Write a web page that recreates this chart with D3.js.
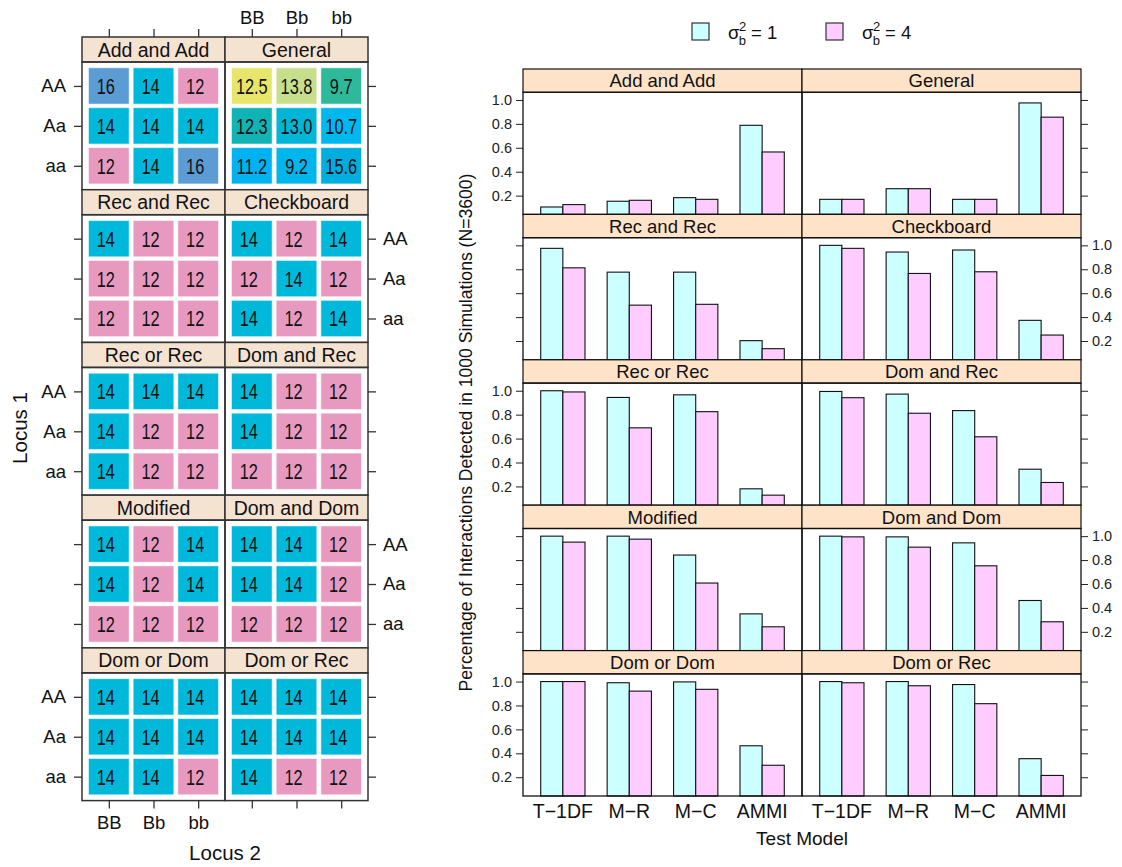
<!DOCTYPE html>
<html><head><meta charset="utf-8">
<script src="https://cdn.jsdelivr.net/npm/d3@7"></script>
<style>
body{margin:0;background:#fff;}
svg{font-family:"Liberation Sans",Arial,sans-serif;}
</style></head><body>
<svg id="chart" width="1122" height="867"></svg>
<script>
// ---------- data ----------
const interactionModels = ["Add and Add","General","Rec and Rec","Checkboard","Rec or Rec","Dom and Rec","Modified","Dom and Dom","Dom or Dom","Dom or Rec"];
const locus1 = ["AA","Aa","aa"];
const locus2 = ["BB","Bb","bb"];
// genotypic values per model, rows AA,Aa,aa ; cols BB,Bb,bb
const genotypeValues = [
  ["16","14","12","14","14","14","12","14","16"],
  ["12.5","13.8","9.7","12.3","13.0","10.7","11.2","9.2","15.6"],
  ["14","12","12","12","12","12","12","12","12"],
  ["14","12","14","12","14","12","14","12","14"],
  ["14","14","14","14","12","12","14","12","12"],
  ["14","12","12","14","12","12","12","12","12"],
  ["14","12","14","14","12","14","12","12","12"],
  ["14","14","12","14","14","12","12","12","12"],
  ["14","14","14","14","14","14","14","14","12"],
  ["14","14","14","14","14","14","14","12","12"]
];
const valueKeys = ["16","14","12","12.5","13.8","9.7","12.3","13.0","10.7","11.2","9.2","15.6"];
const valueColors = ["#5b9cd4","#00b9da","#e899c0","#e7e66b","#c7df8d","#2fb99b","#12b3b4","#00b5d6","#00b7ee","#00b2ef","#00b6eb","#00addf"];

const testModels = ["T\u22121DF","M\u2212R","M\u2212C","AMMI"];
const sigma1 = [
  [0.105,0.153,0.183,0.788],
  [0.169,0.258,0.169,0.975],
  [0.975,0.776,0.776,0.203],
  [1.000,0.944,0.961,0.373],
  [1.000,0.944,0.966,0.180],
  [0.994,0.972,0.834,0.344],
  [1.000,1.000,0.842,0.350],
  [1.000,0.994,0.944,0.462],
  [1.000,0.990,0.997,0.463],
  [1.000,1.000,0.975,0.355]
];
const sigma4 = [
  [0.125,0.161,0.169,0.565],
  [0.169,0.258,0.169,0.856],
  [0.812,0.500,0.507,0.136],
  [0.975,0.765,0.779,0.250],
  [0.990,0.690,0.825,0.127],
  [0.942,0.812,0.615,0.233],
  [0.950,0.975,0.608,0.242],
  [0.994,0.908,0.752,0.284],
  [1.000,0.920,0.935,0.300],
  [0.990,0.965,0.815,0.215]
];
const yTicks = [0.2,0.4,0.6,0.8,1.0];

// ---------- drawing ----------
const svg = d3.select("#chart");
const colorScale = d3.scaleOrdinal().domain(valueKeys).range(valueColors);
const FONT = "Liberation Sans, Arial, sans-serif";

// ===== Left chart (level plots) =====
(function(){
  const L = {x0:82, x1:368, y0:37, y1:800.6, strip:25};
  const pw = (L.x1-L.x0)/2, rh = (L.y1-L.y0)/5;
  const g = svg.append("g");
  const styleAxis = (a,fs)=>{
    a.select(".domain").remove();
    a.selectAll("line").attr("stroke","#333").attr("stroke-width",1.3);
    a.selectAll("text").attr("font-size",fs).attr("font-family",FONT).attr("fill","#111");
  };
  interactionModels.forEach((name,i)=>{
    const col = i%2, row = Math.floor(i/2);
    const px = L.x0 + col*pw, sy = L.y0 + row*rh, py = sy + L.strip, ph = rh - L.strip;
    const x = d3.scalePoint().domain(locus2).range([px+0.6*pw/3.2, px+pw-0.6*pw/3.2]);
    const y = d3.scalePoint().domain(locus1).range([py+0.6*ph/3.2, py+ph-0.6*ph/3.2]);
    const cw = pw/3.2, ch = ph/3.2;
    const pg = g.append("g");
    pg.append("rect").attr("x",px).attr("y",sy).attr("width",pw).attr("height",L.strip)
      .attr("fill","#f5e3d2").attr("stroke","#333").attr("stroke-width",1.5);
    pg.append("text").attr("x",px+pw/2).attr("y",sy+L.strip/2).attr("dy","0.36em")
      .attr("text-anchor","middle").attr("font-size",19.5).attr("fill","#111").text(name);
    const vals = genotypeValues[i];
    const cells = [];
    locus1.forEach((r,ri)=>locus2.forEach((c,ci)=>cells.push({r,c,v:vals[ri*3+ci]})));
    const cg = pg.selectAll("g.c").data(cells).join("g");
    cg.append("rect")
      .attr("x",d=>x(d.c)-cw*0.455).attr("y",d=>y(d.r)-ch*0.455)
      .attr("width",cw*0.91).attr("height",ch*0.91)
      .attr("fill",d=>colorScale(d.v)).attr("stroke","rgba(255,255,255,0.55)").attr("stroke-width",1);
    cg.append("text")
      .attr("transform",d=>`translate(${x(d.c)-(d.v.length<3?3:0)},${y(d.r)}) scale(0.76,1)`)
      .attr("dy","0.37em")
      .attr("text-anchor","middle").attr("font-size",21.5).attr("fill","#111").text(d=>d.v);
    pg.append("rect").attr("x",px).attr("y",py).attr("width",pw).attr("height",ph)
      .attr("fill","none").attr("stroke","#333").attr("stroke-width",1.5);
    if(col===0){
      const a = pg.append("g").attr("transform",`translate(${px},0)`).call(d3.axisLeft(y).tickSize(8).tickPadding(8));
      styleAxis(a,18.5);
      if(row%2===1) a.selectAll("text").remove();
    } else {
      const a = pg.append("g").attr("transform",`translate(${px+pw},0)`).call(d3.axisRight(y).tickSize(8).tickPadding(7));
      styleAxis(a,18.5);
      if(row%2===0) a.selectAll("text").remove();
    }
    if(row===0){
      const a = pg.append("g").attr("transform",`translate(0,${sy})`).call(d3.axisTop(x).tickSize(8).tickPadding(5));
      styleAxis(a,18.5);
      if(col===0) a.selectAll("text").remove();
    }
    if(row===4){
      const a = pg.append("g").attr("transform",`translate(0,${py+ph})`).call(d3.axisBottom(x).tickSize(8).tickPadding(7));
      styleAxis(a,18.5);
      if(col===1) a.selectAll("text").remove();
    }
  });
  g.append("text").attr("transform","translate(27,428) rotate(-90)").attr("text-anchor","middle")
    .attr("font-size",20.5).attr("fill","#111").text("Locus 1");
  g.append("text").attr("x",225).attr("y",860).attr("text-anchor","middle")
    .attr("font-size",20.5).attr("fill","#111").text("Locus 2");
})();

// ===== Right chart (bar charts) =====
(function(){
  const R = {x0:523, x1:1081, y0:69, y1:796, strip:23.3};
  const pw = (R.x1-R.x0)/2, rh = (R.y1-R.y0)/5;
  const fills = ["#ccffff","#ffccff"];
  const g = svg.append("g");
  const styleAxis = (a)=>{
    a.select(".domain").remove();
    a.selectAll("line").attr("stroke","#222");
    a.selectAll("text").attr("font-size",14.5).attr("font-family",FONT).attr("fill","#222");
  };
  interactionModels.forEach((name,i)=>{
    const col = i%2, row = Math.floor(i/2);
    const px = R.x0 + col*pw, sy = R.y0 + row*rh, py = sy + R.strip, ph = rh - R.strip;
    const x = d3.scaleLinear().domain([0.4,4.6]).range([px,px+pw]);
    const y = d3.scaleLinear().domain([0.043,1.064]).range([py+ph,py]);
    const pg = g.append("g");
    pg.append("rect").attr("x",px).attr("y",sy).attr("width",pw).attr("height",R.strip)
      .attr("fill","#fee3c8").attr("stroke","#111").attr("stroke-width",1.2);
    pg.append("text").attr("x",px+pw/2).attr("y",sy+R.strip/2).attr("dy","0.36em")
      .attr("text-anchor","middle").attr("font-size",18.5).attr("fill","#111").text(name);
    const bars = [];
    testModels.forEach((m,k)=>{
      bars.push({k,s:0,v:sigma1[i][k]});
      bars.push({k,s:1,v:sigma4[i][k]});
    });
    pg.selectAll("rect.bar").data(bars).join("rect").attr("class","bar")
      .attr("x",d=>x(d.k+1 - 1/3 + d.s/3)).attr("width",d=>x(1/3)-x(0))
      .attr("y",d=>y(d.v)).attr("height",d=>y(0.043)-y(d.v))
      .attr("fill",d=>fills[d.s]).attr("stroke","#111").attr("stroke-width",1.1);
    pg.append("rect").attr("x",px).attr("y",py).attr("width",pw).attr("height",ph)
      .attr("fill","none").attr("stroke","#111").attr("stroke-width",1.3);
    if(col===0){
      const a = pg.append("g").attr("transform",`translate(${px},0)`)
        .call(d3.axisLeft(y).tickValues(yTicks).tickFormat(d3.format(".1f")).tickSize(7).tickPadding(4));
      styleAxis(a);
      if(row%2===1) a.selectAll("text").remove();
    } else {
      const a = pg.append("g").attr("transform",`translate(${px+pw},0)`)
        .call(d3.axisRight(y).tickValues(yTicks).tickFormat(d3.format(".1f")).tickSize(7).tickPadding(4));
      styleAxis(a);
      if(row%2===0) a.selectAll("text").remove();
    }
    if(row===4){
      const xb = d3.scaleOrdinal().domain(testModels).range(testModels.map((m,k)=>x(k+1)));
      pg.selectAll("text.xl").data(testModels).join("text").attr("class","xl")
        .attr("x",d=>xb(d)).attr("y",py+ph+15).attr("dy","0.36em").attr("text-anchor","middle")
        .attr("font-size",19.5).attr("fill","#111").text(d=>d);
    }
  });
  g.append("text").attr("transform",`translate(472,${(R.y0+R.y1)/2}) rotate(-90)`).attr("text-anchor","middle")
    .attr("font-size",17.6).attr("fill","#111").text("Percentage of Interactions Detected in 1000 Simulations (N=3600)");
  g.append("text").attr("x",(R.x0+R.x1)/2).attr("y",845).attr("text-anchor","middle")
    .attr("font-size",19).attr("fill","#111").text("Test Model");

  const leg = [{x:692,t:"1"},{x:826,t:"4"}];
  leg.forEach((d,s)=>{
    g.append("rect").attr("x",d.x).attr("y",23).attr("width",17).attr("height",17)
      .attr("fill",fills[s]).attr("stroke","#333").attr("stroke-width",1.2);
    const t = g.append("text").attr("x",d.x+36).attr("y",39).attr("font-size",18.5).attr("fill","#111");
    t.append("tspan").text("\u03c3");
    t.append("tspan").attr("dx",-0.5).attr("dy",-8).attr("font-size",13).text("2");
    t.append("tspan").attr("dx",-7.5).attr("dy",14).attr("font-size",13).text("b");
    t.append("tspan").attr("dy",-6).text(" = "+d.t);
  });
})();
</script>
</body></html>
